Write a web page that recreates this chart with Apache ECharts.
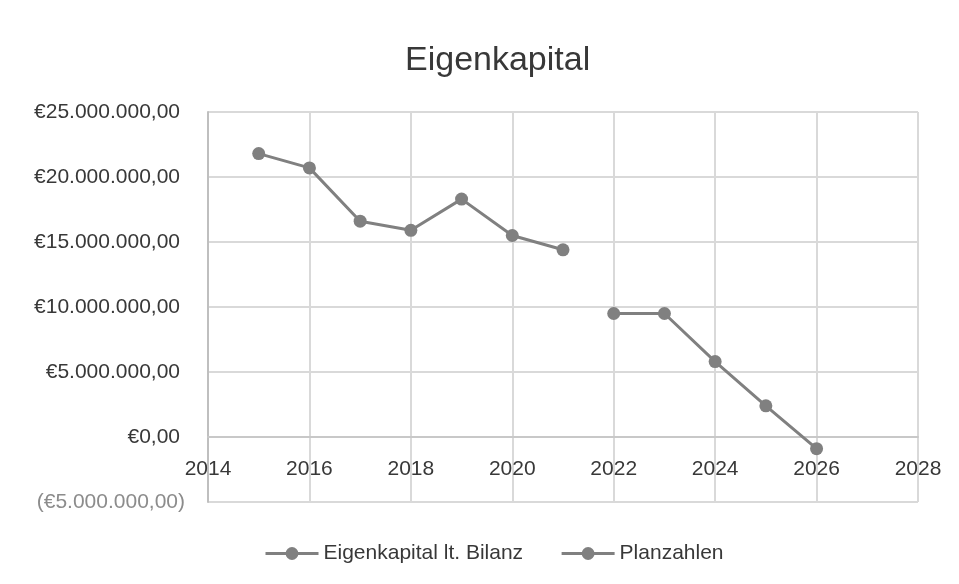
<!DOCTYPE html>
<html>
<head>
<meta charset="utf-8">
<script src="https://cdn.jsdelivr.net/npm/echarts@6/dist/echarts.min.js"></script>
<style>
html,body{margin:0;padding:0;background:#fff;}
#chart{width:959px;height:584px;}
</style>
</head>
<body>
<div id="chart"></div>
<script>
var titleText = 'Eigenkapital';
var seriesNames = ['Eigenkapital lt. Bilanz', 'Planzahlen'];
var yearsBilanz = [2015, 2016, 2017, 2018, 2019, 2020, 2021];
var valuesBilanz = [21800000, 20700000, 16600000, 15900000, 18300000, 15500000, 14400000];
var yearsPlan = [2022, 2023, 2024, 2025, 2026];
var valuesPlan = [9500000, 9500000, 5800000, 2400000, -900000];

function zip(xs, ys){ return xs.map(function(x,i){ return [x, ys[i]]; }); }

function fmtEuro(v){
  var a = Math.abs(v);
  var s = Math.round(a).toString().replace(/\B(?=(\d{3})+(?!\d))/g, '.') + ',00';
  return v < 0 ? '{n|(€' + s + ')}' : '{p|€' + s + '}';
}

var FONT = 'Liberation Sans';
var TXT = '#383838';
var chart = echarts.init(document.getElementById('chart'), null, {renderer:'canvas'});
chart.setOption({
  backgroundColor: '#ffffff',
  animation: false,
  title: {
    text: titleText,
    left: 400,
    top: 39,
    textStyle: {fontFamily: FONT, fontSize: 34, fontWeight: 'normal', color: TXT}
  },
  legend: {
    top: 538,
    left: 259,
    itemWidth: 53,
    itemHeight: 16,
    itemGap: 37,
    lineStyle: {width: 3},
    textStyle: {fontFamily: FONT, fontSize: 21, color: TXT},
    data: seriesNames
  },
  grid: {left: 208, right: 41, top: 112, bottom: 82, containLabel: false},
  xAxis: {
    type: 'value',
    min: 2014, max: 2028, interval: 2,
    offset: -65,
    axisLine: {show: true, onZero: false, lineStyle: {color: '#c8c8c8', width: 2}},
    axisTick: {show: false},
    splitLine: {show: true, lineStyle: {color: '#d9d9d9', width: 2}},
    axisLabel: {
      margin: 22,
      fontFamily: FONT, fontSize: 21, color: TXT,
      formatter: function(v){ return String(v); }
    }
  },
  yAxis: {
    type: 'value',
    min: -5000000, max: 25000000, interval: 5000000,
    axisLine: {show: true, lineStyle: {color: '#bfbfbf', width: 2}},
    axisTick: {show: false},
    splitLine: {show: true, lineStyle: {color: '#d9d9d9', width: 2}},
    axisLabel: {
      margin: 23,
      formatter: fmtEuro,
      rich: {
        p: {fontFamily: FONT, fontSize: 21, color: TXT, padding: [0, 5, 0, 0]},
        n: {fontFamily: FONT, fontSize: 21, color: '#8c8c8c'}
      }
    }
  },
  series: [
    {
      name: seriesNames[0],
      type: 'line',
      data: zip(yearsBilanz, valuesBilanz),
      symbol: 'circle', symbolSize: 13,
      lineStyle: {color: '#808080', width: 3},
      itemStyle: {color: '#808080'}
    },
    {
      name: seriesNames[1],
      type: 'line',
      data: zip(yearsPlan, valuesPlan),
      symbol: 'circle', symbolSize: 13,
      lineStyle: {color: '#808080', width: 3},
      itemStyle: {color: '#808080'}
    }
  ]
});
</script>
</body>
</html>
